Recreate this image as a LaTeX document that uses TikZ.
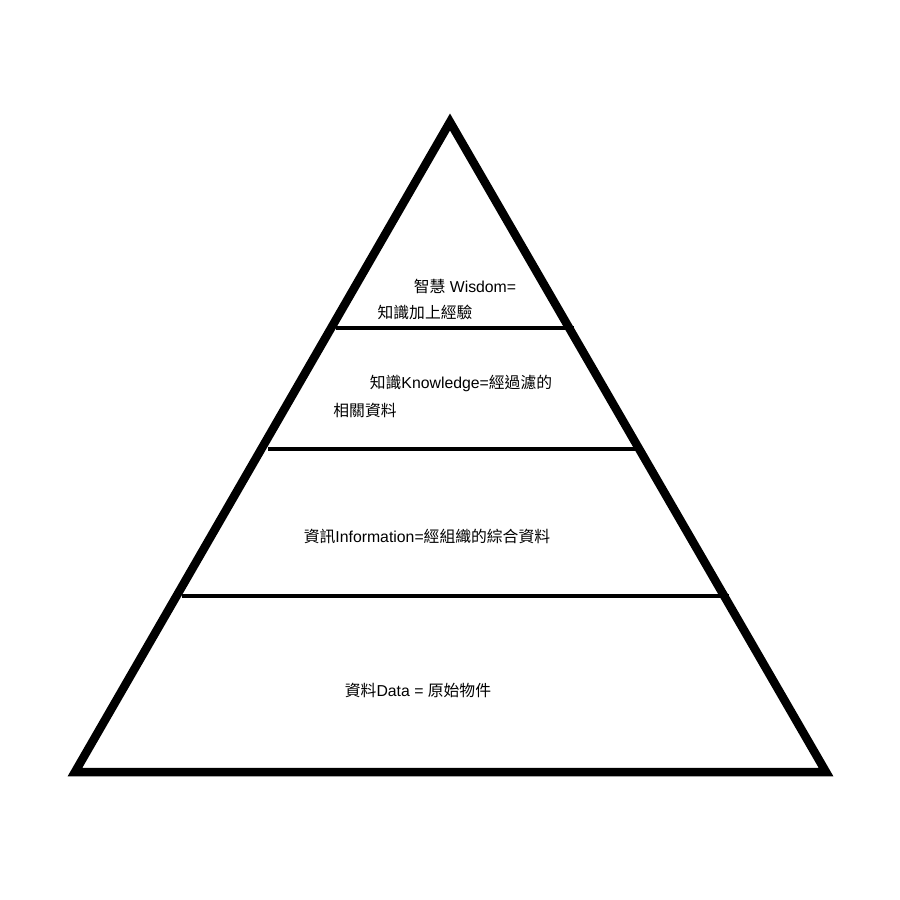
\documentclass[tikz,border=0pt]{standalone}
\usepackage{fontspec}
\setmainfont{Liberation Sans}
\newfontfamily\cjk{Noto Sans CJK TC}
\tikzset{
  tri/.style={line width=8.5pt, line join=miter},
  sep/.style={line width=4pt},
  lbl/.style={font=\fontsize{15.8pt}{18pt}\selectfont, inner sep=0pt, anchor=center}
}
\begin{document}
\begin{tikzpicture}[x=1pt,y=-1pt]
\useasboundingbox (0,0) rectangle (900,900);
\fill[white] (0,0) rectangle (900,900);
\coordinate (apex) at (450,122);
\coordinate (bl) at (75,772);
\coordinate (br) at (826,772);
\draw[tri] (apex) -- (br) -- (bl) -- cycle;
\coordinate (a1) at (336,328); \coordinate (b1) at (574,328);
\coordinate (a2) at (268,449); \coordinate (b2) at (642,449);
\coordinate (a3) at (182,596); \coordinate (b3) at (729,596);
\draw[sep] (a1) -- (b1);
\draw[sep] (a2) -- (b2);
\draw[sep] (a3) -- (b3);
\node[lbl] (w1) at (465,286) {{\cjk 智慧} Wisdom=};
\node[lbl] (w2) at (425,312) {\cjk 知識加上經驗};
\node[lbl] (k1) at (461,383) {{\cjk 知識}Knowledge={\cjk 經過濾的}};
\node[lbl] (k2) at (365,410) {\cjk 相關資料};
\node[lbl] (i1) at (427,536) {{\cjk 資訊}Information={\cjk 經組織的綜合資料}};
\node[lbl] (d1) at (418,690) {{\cjk 資料}Data = {\cjk 原始物件}};
\end{tikzpicture}
\end{document}
